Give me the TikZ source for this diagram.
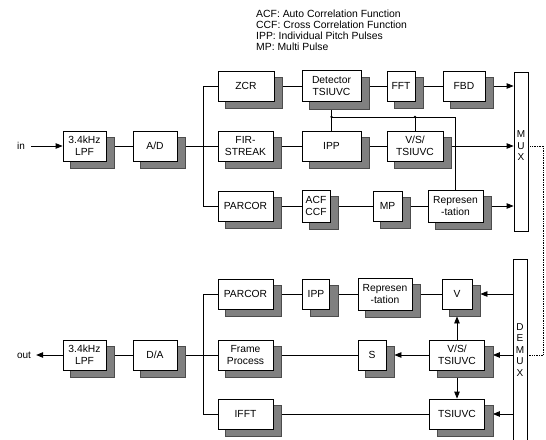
\documentclass[tikz,border=0pt]{standalone}
\usepackage{fontspec}
\setmainfont{Liberation Sans}
\usetikzlibrary{arrows.meta}
\pgfdeclarelayer{bg}
\pgfdeclarelayer{shad}
\pgfsetlayers{bg,shad,main}
\begin{document}
\begin{tikzpicture}[x=1pt,y=-1pt,
  box/.style={draw=black, line width=0.8pt, fill=white, inner sep=0pt, align=center,
    font=\fontsize{10.3}{12.5}\selectfont},
  shadowbox/.style={fill=black!50, draw=black!70, line width=0.4pt},
  bar/.style={draw=black, line width=0.8pt, fill=white, inner sep=0pt, minimum width=14pt},
  lbl/.style={inner sep=0pt, align=center, font=\fontsize{10}{11.5}\selectfont},
  conn/.style={line width=0.8pt},
  arr/.style={line width=0.8pt, -{Triangle[length=7pt,width=5.5pt]}},
]
\useasboundingbox (0,0) rectangle (546,439);
\clip (0,0) rectangle (546,439);

% legend
\node[anchor=north west, inner sep=0pt, align=left, font=\fontsize{10.4}{11}\selectfont] (legend) at (256,10)
  {ACF: Auto Correlation Function\\CCF: Cross Correlation Function\\IPP: Individual Pitch Pulses\\MP: Multi Pulse};

% top part
\node[lbl] (in) at (21,146) {in};
\node[box, minimum width=43pt, minimum height=30pt] (lpf1) at (84.5,146) {3.4kHz\\LPF};
\node[box, minimum width=44pt, minimum height=30pt] (ad) at (155,146) {A/D};
\node[box, minimum width=56pt, minimum height=30pt] (zcr) at (246,86) {ZCR};
\node[box, minimum width=59pt, minimum height=31pt] (det) at (331.5,86) {Detector\\TSIUVC};
\node[box, minimum width=28pt, minimum height=30pt] (fft) at (401,86) {FFT};
\node[box, minimum width=42pt, minimum height=30pt] (fbd) at (464,86) {FBD};
\node[bar, minimum height=159pt] (mux) at (521,151.5) {};
\node[lbl] (muxtxt) at (521,146) {M\\U\\X};
\node[box, minimum width=55pt, minimum height=30pt] (fir) at (245.5,146) {FIR-\\STREAK};
\node[box, minimum width=59pt, minimum height=30pt] (ipp1) at (331.5,146) {IPP};
\node[box, minimum width=56pt, minimum height=30pt] (vs1) at (415,146) {V/S/\\TSIUVC};
\node[box, minimum width=55pt, minimum height=30pt] (parc1) at (245.5,206) {PARCOR};
\node[box, minimum width=28pt, minimum height=32pt] (acf) at (316,206) {ACF\\CCF};
\node[box, minimum width=29pt, minimum height=30pt] (mp) at (387.5,206) {MP};
\node[box, minimum width=55pt, minimum height=32pt] (rep1) at (455.5,206) {Represen\\-tation};

% bottom part
\node[lbl] (out) at (24,355) {out};
\node[box, minimum width=43pt, minimum height=30pt] (lpf2) at (84.5,355) {3.4kHz\\LPF};
\node[box, minimum width=44pt, minimum height=30pt] (da) at (155,355) {D/A};
\node[box, minimum width=55pt, minimum height=30pt] (parc2) at (245.5,294) {PARCOR};
\node[box, minimum width=27pt, minimum height=30pt] (ipp2) at (316,294) {IPP};
\node[box, minimum width=54pt, minimum height=32pt] (rep2) at (385,294) {Represen\\-tation};
\node[box, minimum width=30pt, minimum height=30pt] (v) at (457,294) {V};
\node[box, minimum width=55pt, minimum height=30pt] (frame) at (245.5,355) {Frame\\Process};
\node[box, minimum width=28pt, minimum height=30pt] (s) at (372,355) {S};
\node[box, minimum width=55pt, minimum height=30pt] (vs2) at (457,355) {V/S/\\TSIUVC};
\node[box, minimum width=55pt, minimum height=30pt] (ifft) at (245.5,414) {IFFT};
\node[box, minimum width=55pt, minimum height=30pt] (tsi) at (457,414) {TSIUVC};
\node[bar, minimum height=191pt] (demux) at (520,354.5) {};
\node[lbl] (demuxtxt) at (520,350) {D\\E\\M\\U\\X};

\path (det.south) ++(0,15) coordinate (j1);
\fill (j1) circle (1.3pt);
\fill (vs1.north |- j1) circle (1.3pt);

% shadows
\begin{pgfonlayer}{shad}
  \foreach \n in {lpf1,ad,zcr,det,fft,fbd,fir,ipp1,vs1,parc1,acf,mp,rep1,
                  lpf2,da,parc2,ipp2,rep2,v,frame,s,vs2,ifft,tsi}
    \draw[shadowbox] ([xshift=8pt,yshift=-7pt]\n.south west) rectangle ([xshift=8pt,yshift=-7pt]\n.north east);
\end{pgfonlayer}

\begin{pgfonlayer}{bg}
  % top
  \draw[arr, shorten <=6pt] (in) -- (lpf1);
  \draw[conn] (lpf1) -- (ad);
  \draw[conn] (ad) -- (fir);
  \draw[conn] (zcr.west) -- ++(-14,0) |- (parc1.west);
  \draw[conn] (zcr) -- (det);
  \draw[conn] (det) -- (fft);
  \draw[conn] (fft) -- (fbd);
  \draw[arr] (fbd.east) -- (fbd.east -| mux.west);
  \draw[conn] (fir) -- (ipp1);
  \draw[conn] (ipp1) -- (vs1);
  \draw[arr] (vs1.east) -- (vs1.east -| mux.west);
  \draw[conn] (parc1) -- (acf);
  \draw[conn] (acf) -- (mp);
  \draw[conn] (mp) -- (rep1);
  \draw[arr] (rep1.east) -- (rep1.east -| mux.west);
  \draw[conn] (det) -- (ipp1);
  \draw[conn] (j1) -| (rep1.north);
  \draw[conn] (vs1.north) -- (vs1.north |- j1);
  \draw[densely dotted, line width=0.7pt] (mux.east |- vs1.east) -- ++(15,0) |- (demux.east |- vs2.east);
  % bottom
  \draw[arr, shorten >=5pt] (lpf2) -- (out);
  \draw[conn] (lpf2) -- (da);
  \draw[conn] (da) -- (frame);
  \draw[conn] (parc2.west) -- ++(-14,0) |- (ifft.west);
  \draw[conn] (parc2) -- (ipp2);
  \draw[conn] (ipp2) -- (rep2);
  \draw[conn] (rep2) -- (v);
  \draw[arr, shorten >=8pt] (demux.west |- v.east) -- (v.east);
  \draw[arr, shorten >=8pt] (demux.west |- vs2.east) -- (vs2.east);
  \draw[arr, shorten >=8pt] (demux.west |- tsi.east) -- (tsi.east);
  \draw[conn] (frame) -- (s);
  \draw[arr, shorten >=8pt] (vs2.west) -- (s.east);
  \draw[arr, shorten >=7pt] (vs2.north) -- (vs2.north |- v.south);
  \draw[arr] (vs2.south) -- (vs2.south |- tsi.north);
  \draw[conn] (ifft) -- (tsi);
\end{pgfonlayer}
\end{tikzpicture}
\end{document}
